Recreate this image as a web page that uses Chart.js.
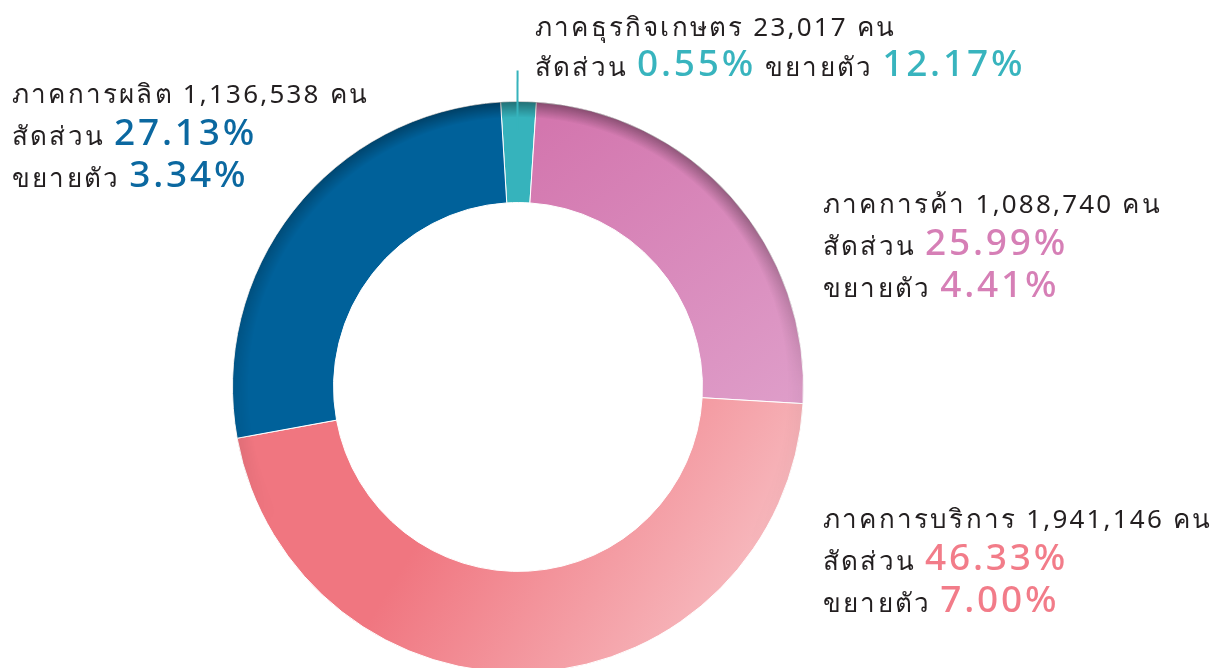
<!DOCTYPE html>
<html lang="th">
<head>
<meta charset="utf-8">
<script src="https://cdn.jsdelivr.net/npm/chart.js@4.4.1/dist/chart.umd.min.js"></script>
<style>
  html, body { margin: 0; padding: 0; background: #fff; width: 1219px; height: 668px; overflow: hidden; }
  #wrap { position: absolute; left: 0; top: 0; width: 1219px; height: 680px; }
  .line {
    position: absolute; white-space: nowrap;
    font-family: "Noto Sans", "DejaVu Sans", sans-serif;
    color: #231f20; font-size: 26px; line-height: 40px; letter-spacing: 2.2px;
  }
  .big { font-size: 37px; font-weight: 500; letter-spacing: 2.8px; }
</style>
</head>
<body>
<div id="wrap"><canvas id="sectorChart" width="1219" height="680"></canvas></div>
<div id="labels"></div>
<script>
// order = clockwise from the top
const sectors = ['ภาคธุรกิจเกษตร', 'ภาคการค้า', 'ภาคการบริการ', 'ภาคการผลิต'];
const workers = [23017, 1088740, 1941146, 1136538];
const sharePct = [0.55, 25.99, 46.33, 27.13];
const growthPct = [12.17, 4.41, 7.00, 3.34];
// slice sizes as they are drawn in the picture (small slice is enlarged there)
const drawnShare = [2.0, 24.9, 46.2, 26.9];

const baseColours = ['#36b3bc', '#d47ab0', '#f07781', '#00619a'];
const textColours = ['#38b4be', '#d67fb6', '#f27c89', '#0b68a0'];

// label placement: left x, baseline of first line
const labelPos = [
    { x: 535, y: 36, oneLine: true },
    { x: 823, y: 213 },
    { x: 823, y: 528 },
    { x: 12, y: 103 }
];

function sliceFill(context) {
    const i = context.dataIndex;
    const chart = context.chart;
    const area = chart.chartArea;
    if (!area) return baseColours[i];
    const c = chart.ctx;
    const cx = (area.left + area.right) / 2;
    const cy = (area.top + area.bottom) / 2;
    const r = (area.right - area.left) / 2;
    let g;
    if (i === 1) {
        g = c.createLinearGradient(cx + 0.2 * r, cy - r, cx + r, cy + 0.1 * r);
        g.addColorStop(0, '#d376ae');
        g.addColorStop(1, '#df9fca');
        return g;
    }
    if (i === 2) {
        g = c.createLinearGradient(cx - 0.2 * r, cy + 0.3 * r, cx + 0.85 * r, cy + 0.95 * r);
        g.addColorStop(0, '#f07680');
        g.addColorStop(1, '#f8c4c8');
        return g;
    }
    return baseColours[i];
}

// darker rim on the outer edge, strongest on the upper left
const rimShade = {
    id: 'rimShade',
    afterDatasetsDraw(chart) {
        const arcs = chart.getDatasetMeta(0).data;
        if (!arcs.length) return;
        const { x, y, outerRadius: R } = arcs[0];
        const off = document.createElement('canvas');
        off.width = chart.width; off.height = chart.height;
        const o = off.getContext('2d');
        const rg = o.createRadialGradient(x, y, R - 16, x, y, R);
        rg.addColorStop(0, 'rgba(0,0,0,0)');
        rg.addColorStop(1, 'rgba(0,0,0,0.38)');
        o.beginPath();
        o.arc(x, y, R, 0, Math.PI * 2);
        o.arc(x, y, R - 16, 0, Math.PI * 2, true);
        o.fillStyle = rg;
        o.fill();
        o.globalCompositeOperation = 'destination-in';
        const cg = o.createConicGradient(0, x, y);
        cg.addColorStop(0, 'rgba(0,0,0,0.1)');
        cg.addColorStop(0.1, 'rgba(0,0,0,0)');
        cg.addColorStop(0.42, 'rgba(0,0,0,0)');
        cg.addColorStop(0.56, 'rgba(0,0,0,0.5)');
        cg.addColorStop(0.75, 'rgba(0,0,0,1)');
        cg.addColorStop(0.9, 'rgba(0,0,0,0.8)');
        cg.addColorStop(1, 'rgba(0,0,0,0.1)');
        o.fillStyle = cg;
        o.fillRect(0, 0, off.width, off.height);
        chart.ctx.drawImage(off, 0, 0);
    },
    afterDraw(chart) {
        const a = chart.getDatasetMeta(0).data[0];
        const mid = (a.startAngle + a.endAngle) / 2;
        const c = chart.ctx;
        c.save();
        c.strokeStyle = baseColours[0];
        c.lineWidth = 2;
        c.beginPath();
        c.moveTo(a.x - 1 + Math.cos(mid) * (a.outerRadius + 31), a.y + Math.sin(mid) * (a.outerRadius + 31));
        c.lineTo(a.x - 1 + Math.cos(mid) * (a.outerRadius - 28), a.y + Math.sin(mid) * (a.outerRadius - 28));
        c.stroke();
        c.restore();
    }
};

new Chart(document.getElementById('sectorChart'), {
    type: 'doughnut',
    data: {
        labels: sectors,
        datasets: [{
            data: drawnShare,
            backgroundColor: sliceFill,
            borderColor: '#ffffff',
            borderWidth: 1
        }]
    },
    options: {
        responsive: false,
        animation: false,
        cutout: '64.6%',
        rotation: -3.5,
        layout: { padding: { left: 232, top: 101, right: 415, bottom: 7 } },
        plugins: {
            legend: { display: false },
            tooltip: { enabled: false }
        }
    },
    plugins: [rimShade]
});

// text labels
const holder = document.getElementById('labels');
function pct(v) { return v.toFixed(2) + '%'; }
function addLine(x, baseline, html) {
    const d = document.createElement('div');
    d.className = 'line';
    d.style.left = x + 'px';
    d.innerHTML = html + '<span style="display:inline-block;width:0;height:0"></span>';
    holder.appendChild(d);
    const probe = d.lastChild;
    d.style.top = (baseline - probe.offsetTop) + 'px';
}
sectors.forEach((name, i) => {
    const p = labelPos[i];
    const col = textColours[i];
    const big = v => `<span class="big" style="color:${col}">${pct(v)}</span>`;
    addLine(p.x, p.y, `${name} ${workers[i].toLocaleString('en-US')} คน`);
    if (p.oneLine) {
        addLine(p.x, p.y + 40, `สัดส่วน ${big(sharePct[i])} ขยายตัว ${big(growthPct[i])}`);
    } else {
        addLine(p.x, p.y + 42, `สัดส่วน ${big(sharePct[i])}`);
        addLine(p.x, p.y + 84, `ขยายตัว ${big(growthPct[i])}`);
    }
});
</script>
</body>
</html>
